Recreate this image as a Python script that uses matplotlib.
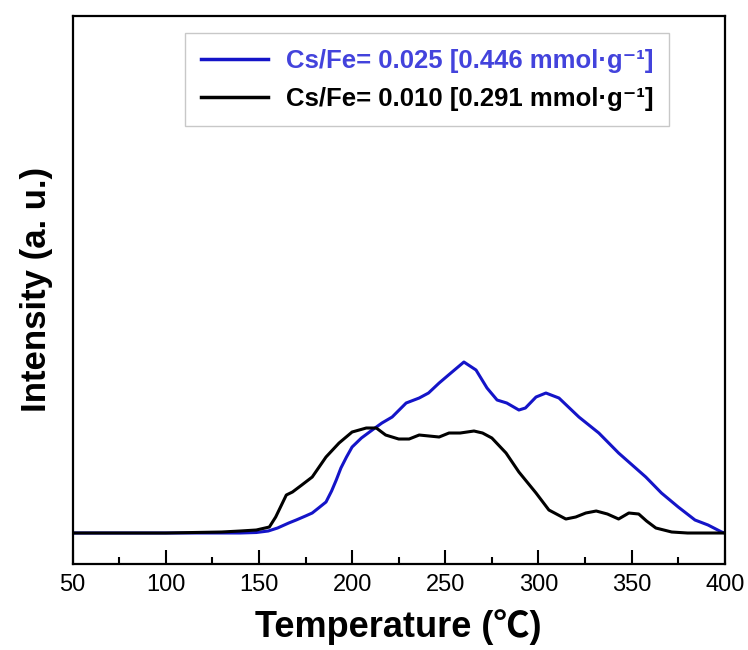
import numpy as np
import matplotlib
matplotlib.use('Agg')
import matplotlib.pyplot as plt
from matplotlib.ticker import MultipleLocator

# TPD-like profiles (intensity in arbitrary units)
temp_025 = [50, 100, 140, 148.6, 155, 160, 166, 170, 175, 178.6, 182, 186,
            189, 191.5, 194, 197, 200, 205, 210.8, 216, 221.5, 229, 236, 241,
            246.7, 253, 260, 266.5, 272.4, 277.8, 283, 289.5, 293, 298.7, 304,
            311, 321.7, 332.4, 343, 357.6, 366, 375, 384, 391, 398.3, 400]
int_025 = [0, 0, 0, 0.5, 2, 5, 10, 13, 17, 20, 25, 31,
           42, 53, 65, 76, 86, 95, 103, 110, 116, 130, 135, 140,
           150, 160, 171, 163, 145, 133, 130, 123, 125, 136, 140,
           135, 116, 100, 80, 56, 40, 26, 13, 8, 1, 0]

temp_010 = [50, 100, 130, 140, 148.6, 155.6, 159, 164.7, 168, 173, 178.6, 186,
            193, 200, 207.6, 213, 218, 225, 230.6, 236, 246.7, 252, 258,
            265.4, 270, 275, 282.6, 289.5, 298.7, 305.6, 314.7, 320, 325.4,
            331, 337, 343, 348.5, 353.8, 358, 363, 371.5, 380, 400]
int_010 = [0, 0, 1, 2, 3, 6, 16, 38, 41, 48, 56, 76,
           90, 101, 105, 105, 98, 94, 94, 98, 96, 100, 100,
           102, 100, 95, 80, 61, 40, 23, 14, 16, 20,
           22, 19, 14, 20, 19, 12, 5, 1, 0, 0]

labels = ['Cs/Fe= 0.025 [0.446 mmol·g⁻¹]', 'Cs/Fe= 0.010 [0.291 mmol·g⁻¹]']
line_colors = ['#1414c8', '#000000']
text_colors = ['#4343dc', '#000000']

fonts = ['Liberation Sans', 'DejaVu Sans']
plt.rcParams['font.family'] = fonts

fig = plt.figure(figsize=(7.48, 6.5), dpi=100)
ax = fig.add_axes([0.097, 0.1323, 0.872, 0.8438])

ax.plot(temp_025, int_025, color=line_colors[0], lw=2.2, label=labels[0])
ax.plot(temp_010, int_010, color=line_colors[1], lw=2.2, label=labels[1])

ax.set_xlim(50, 400)
ax.set_ylim(-31, 517.5)
ax.xaxis.set_major_locator(MultipleLocator(50))
ax.xaxis.set_minor_locator(MultipleLocator(25))
ax.tick_params(axis='x', which='major', direction='in', length=10, width=1.5,
               labelsize=17, pad=7)
ax.tick_params(axis='x', which='minor', direction='in', length=5, width=1.5)
ax.set_yticks([])
for sp in ax.spines.values():
    sp.set_linewidth(1.6)

ax.set_xlabel('Temperature (℃)', fontsize=26, fontweight='bold', labelpad=10,
              family=['Liberation Sans', 'Noto Sans CJK SC'])
ax.set_ylabel('Intensity (a. u.)', fontsize=25, fontweight='bold', labelpad=14)

leg = ax.legend(loc='upper right', bbox_to_anchor=(0.914, 0.968),
                prop={'size': 18.5, 'weight': 'bold'}, fancybox=False,
                edgecolor='#bbbbbb', handlelength=2.6, handletextpad=0.7,
                borderpad=0.6, labelspacing=0.55, borderaxespad=0)
leg.get_frame().set_linewidth(1.0)
for txt, c in zip(leg.get_texts(), text_colors):
    txt.set_color(c)
for h in leg.legend_handles:
    h.set_linewidth(2.5)

fig.savefig('out.png', dpi=100)
